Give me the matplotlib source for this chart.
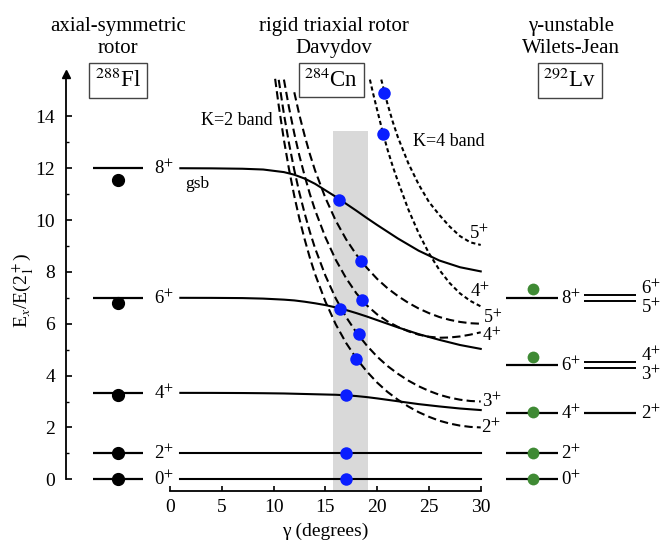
import matplotlib
matplotlib.use("Agg")
import matplotlib.pyplot as plt

plt.rcParams['font.family'] = ['Liberation Serif', 'DejaVu Serif']
plt.rcParams['mathtext.fontset'] = 'stix'

# 288Fl - axial-symmetric rotor (left column)
rotor_spins = ['0', '2', '4', '6', '8']
rotor_levels = [0, 1, 3.33, 7, 12]
fl_exp = [0, 1, 3.25, 6.81, 11.55]

# 292Lv - gamma-unstable Wilets-Jean (right column)
wj_spins = ['0', '2', '4', '6', '8']
wj_levels = [0, 1, 2.55, 4.42, 7.0]
lv_exp = [0, 1, 2.6, 4.73, 7.33]
wj_partner_levels = [2.55, 4.42, 7.0]
wj_partner_spins = [['2'], ['4', '3'], ['6', '5']]

# 284Cn - Davydov rigid triaxial rotor, ground state band
gsb_gamma = [1, 4, 7, 9, 11, 12, 13, 14, 15, 16, 17, 18, 19, 20, 22, 24, 26, 28, 30]
gsb_0 = [0] * len(gsb_gamma)
gsb_2 = [1] * len(gsb_gamma)
gsb_4 = [3.333, 3.332, 3.327, 3.32, 3.31, 3.30, 3.29, 3.28, 3.27, 3.26, 3.24, 3.21,
         3.17, 3.12, 3.01, 2.90, 2.81, 2.73, 2.67]
gsb_6 = [7.0, 6.998, 6.99, 6.97, 6.93, 6.9, 6.85, 6.79, 6.72, 6.63, 6.53, 6.41,
         6.28, 6.14, 5.86, 5.6, 5.38, 5.18, 5.03]
gsb_8 = [12.0, 11.995, 11.98, 11.95, 11.85, 11.75, 11.6, 11.4, 11.15, 10.9, 10.63,
         10.36, 10.08, 9.81, 9.29, 8.82, 8.44, 8.18, 8.02]

# K=2 band
k2_gamma_2 = [10.15, 10.5, 11, 11.5, 12, 12.5, 13, 13.5, 14, 15, 16, 17, 18, 19, 20,
              21, 22, 23, 24, 25, 26, 27, 28, 29, 30]
k2_2 = [15.45, 14.41, 13.09, 11.94, 10.93, 10.04, 9.26, 8.55, 7.92, 6.86, 5.98, 5.26,
        4.66, 4.16, 3.73, 3.37, 3.07, 2.81, 2.59, 2.41, 2.26, 2.15, 2.07, 2.02, 2.0]
k2_gamma_3 = [10.5, 11, 11.5, 12, 12.5, 13, 13.5, 14, 15, 16, 17, 18, 19, 20,
              21, 22, 23, 24, 25, 26, 27, 28, 29, 30]
k2_3 = [15.41, 14.09, 12.94, 11.93, 11.04, 10.26, 9.55, 8.92, 7.86, 6.98, 6.26, 5.66,
        5.16, 4.73, 4.37, 4.07, 3.81, 3.59, 3.41, 3.26, 3.15, 3.07, 3.02, 3.0]
k2_gamma_4 = [11, 11.5, 12, 12.5, 13, 13.5, 14, 15, 16, 17, 18, 19, 20,
              21, 22, 23, 24, 25, 26, 27, 28, 29, 30]
k2_4 = [15.42, 14.32, 13.34, 12.47, 11.71, 11.01, 10.39, 9.34, 8.47, 7.76, 7.17, 6.71,
        6.36, 6.09, 5.88, 5.71, 5.58, 5.50, 5.46, 5.47, 5.51, 5.58, 5.67]
k2_gamma_5 = [12, 12.5, 13, 13.5, 14, 15, 16, 17, 18, 19, 20,
              21, 22, 23, 24, 25, 26, 27, 28, 29, 30]
k2_5 = [14.93, 14.04, 13.26, 12.55, 11.92, 10.86, 9.98, 9.26, 8.66, 8.16, 7.73,
        7.37, 7.07, 6.81, 6.59, 6.41, 6.26, 6.15, 6.07, 6.02, 6.0]

# K=4 band
k4_gamma_4 = [19.3, 19.6, 20, 20.5, 21, 21.5, 22, 23, 24, 25, 26, 27, 28, 29, 30]
k4_4 = [15.42, 14.9, 14.25, 13.45, 12.72, 12.08, 11.5, 10.42, 9.5, 8.72, 8.08, 7.57,
        7.17, 6.88, 6.67]
k4_gamma_5 = [20.4, 20.7, 21, 21.5, 22, 23, 24, 25, 26, 27, 28, 29, 30]
k4_5 = [15.42, 14.94, 14.48, 13.8, 13.2, 12.2, 11.38, 10.7, 10.2, 9.75, 9.38, 9.14, 9.04]

# 284Cn experimental levels
cn_gamma = [17.0, 17.0, 17.0, 18.0, 18.2, 16.45, 18.5, 18.45, 16.3, 20.6, 20.7]
cn_exp = [0, 1, 3.25, 4.64, 5.6, 6.56, 6.92, 8.43, 10.78, 13.33, 14.9]

band_gamma = [15.77, 19.15]

fig = plt.figure(figsize=(6.62, 5.42), dpi=100)
ax = fig.add_axes([0, 0, 1, 1])
ax.set_xlim(-16.41, 47.5)
ax.set_ylim(-2.42, 18.49)

for s in ['top', 'right']:
    ax.spines[s].set_visible(False)
ax.spines['left'].set_position(('data', -10))
ax.spines['left'].set_bounds(0, 15.6)
ax.spines['bottom'].set_position(('data', -0.44))
ax.spines['bottom'].set_bounds(0, 30)
for s in ['left', 'bottom']:
    ax.spines[s].set_linewidth(1.3)

ax.set_xticks(range(0, 31, 5))
ax.set_yticks(range(0, 15, 2))
ax.set_yticks(range(1, 15, 2), minor=True)
ax.tick_params(axis='y', which='major', direction='in', length=4, width=1.2, pad=8, labelsize=14)
ax.tick_params(axis='y', which='minor', direction='in', length=2.5, width=1.0)
ax.tick_params(axis='x', direction='in', length=3.5, width=1.2, pad=6, labelsize=14)
ax.plot([-10], [15.65], marker='^', ms=6, color='k', clip_on=False)

ax.text(15, -2.0, 'γ (degrees)', ha='center', va='center', fontsize=14)
ax.text(-14.2, 7.3, r'E$_x$/E(2$_1^+$)', rotation=90, ha='center', va='center', fontsize=14)

# titles
ax.text(-5.0, 17.03, 'axial-symmetric\nrotor', ha='center', va='center', fontsize=15)
ax.text(15.8, 17.03, 'rigid triaxial rotor\nDavydov', ha='center', va='center', fontsize=15)
ax.text(38.7, 17.03, 'γ-unstable\nWilets-Jean', ha='center', va='center', fontsize=15)

box = dict(boxstyle='square,pad=0.25', fc='white', ec='#444444', lw=1.0)
ax.text(-5.0, 15.39, r'$^{288}$Fl', ha='center', va='center', fontsize=16.5, bbox=box)
ax.text(15.57, 15.4, r'$^{284}$Cn', ha='center', va='center', fontsize=16.5, bbox=box)
ax.text(38.6, 15.38, r'$^{292}$Lv', ha='center', va='center', fontsize=16.5, bbox=box)

# left column
ax.hlines(rotor_levels, -7.46, -2.57, color='k', lw=1.6)
ax.plot([-5.0] * len(fl_exp), fl_exp, 'o', color='k', ms=8.5)
for s, y in zip(rotor_spins, rotor_levels):
    ax.text(-0.6, y, s + r'$^{+}$', ha='center', va='center', fontsize=13.5)

# middle: shaded band, curves, data
ax.fill_between(band_gamma, -0.44, 13.42, color='#d9d9d9', lw=0, zorder=0)
for vals in [gsb_0, gsb_2, gsb_4, gsb_6, gsb_8]:
    ax.plot(gsb_gamma, vals, color='k', lw=1.5)
long_dash = (0, (4, 2))
ax.plot(k2_gamma_2, k2_2, color='k', lw=1.5, ls=long_dash)
ax.plot(k2_gamma_3, k2_3, color='k', lw=1.5, ls=long_dash)
ax.plot(k2_gamma_4, k2_4, color='k', lw=1.5, ls=long_dash)
ax.plot(k2_gamma_5, k2_5, color='k', lw=1.5, ls=long_dash)
short_dash = (0, (2, 1.4))
ax.plot(k4_gamma_4, k4_4, color='k', lw=1.5, ls=short_dash)
ax.plot(k4_gamma_5, k4_5, color='k', lw=1.5, ls=short_dash)
ax.plot(cn_gamma, cn_exp, 'o', color='#0a1eff', ms=9, mec='none', zorder=5)

ax.text(2.6, 11.39, 'gsb', ha='center', va='center', fontsize=12.5)
ax.text(6.5, 13.86, 'K=2 band', ha='center', va='center', fontsize=13)
ax.text(26.96, 13.05, 'K=4 band', ha='center', va='center', fontsize=13)

sup = r'$^{+}$'
ax.text(k2_gamma_2[-1] + 1.0, k2_2[-1], '2' + sup, ha='center', va='center', fontsize=13.5)
ax.text(k2_gamma_3[-1] + 1.05, k2_3[-1], '3' + sup, ha='center', va='center', fontsize=13.5)
ax.text(k2_gamma_4[-1] + 1.1, k2_4[-1] - 0.14, '4' + sup, ha='center', va='center', fontsize=13)
ax.text(k2_gamma_5[-1] + 1.15, k2_5[-1] + 0.22, '5' + sup, ha='center', va='center', fontsize=13)
ax.text(k4_gamma_4[-1] - 0.07, k4_4[-1] + 0.57, '4' + sup, ha='center', va='center', fontsize=13.5)
ax.text(k4_gamma_5[-1] - 0.16, k4_5[-1] + 0.46, '5' + sup, ha='center', va='center', fontsize=13.5)

# right column
ax.hlines(wj_levels, 32.46, 37.44, color='k', lw=1.6)
ax.plot([35.04] * len(lv_exp), lv_exp, 'o', color='#3f8a34', ms=8.5, mec='none')
for s, y in zip(wj_spins, wj_levels):
    ax.text(38.72, y, s + sup, ha='center', va='center', fontsize=13.5)
for y, spins in zip(wj_partner_levels, wj_partner_spins):
    if len(spins) == 1:
        ax.hlines(y, 40.0, 45.0, color='k', lw=1.6)
        ax.text(46.44, y, spins[0] + sup, ha='center', va='center', fontsize=13.5)
    else:
        ax.hlines([y + 0.11, y - 0.11], 40.0, 45.0, color='k', lw=1.4)
        ax.text(46.44, y + 0.38, spins[0] + sup, ha='center', va='center', fontsize=13.5)
        ax.text(46.44, y - 0.35, spins[1] + sup, ha='center', va='center', fontsize=13.5)

fig.savefig('out.png', dpi=100)
